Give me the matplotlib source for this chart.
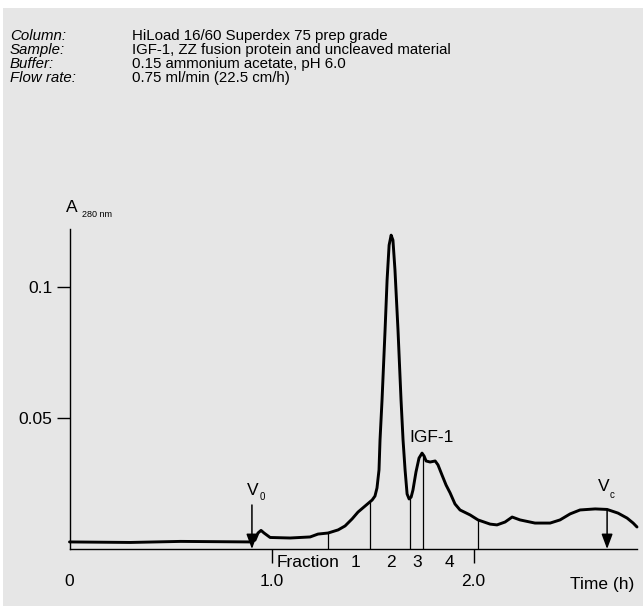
import numpy as np
import matplotlib.pyplot as plt
from matplotlib.patches import Rectangle

plt.rcParams['font.family'] = ['Liberation Sans', 'DejaVu Sans']

# chromatogram trace (time in h, absorbance at 280 nm)
time_h = [0.00, 0.30, 0.55, 0.89, 0.918, 0.933, 0.948, 0.963, 0.993, 1.092,
          1.191, 1.230, 1.280, 1.330, 1.364, 1.399, 1.428, 1.463, 1.498, 1.512,
          1.522, 1.532, 1.537, 1.547, 1.562, 1.572, 1.582, 1.592, 1.601, 1.611,
          1.626, 1.641, 1.651, 1.661, 1.671, 1.681, 1.691, 1.700, 1.715, 1.730,
          1.745, 1.755, 1.765, 1.785, 1.810, 1.824, 1.844, 1.864, 1.884, 1.908,
          1.933, 1.983, 2.022, 2.082, 2.116, 2.156, 2.191, 2.230, 2.304, 2.379,
          2.428, 2.478, 2.527, 2.602, 2.661, 2.715, 2.760, 2.790, 2.809]
absorb = [0.0027, 0.0025, 0.0029, 0.0027, 0.0034, 0.0061, 0.0071, 0.0061, 0.0044, 0.0042,
          0.0046, 0.0057, 0.0061, 0.0073, 0.0088, 0.0115, 0.0141, 0.0164, 0.0187, 0.0202,
          0.0233, 0.0302, 0.0416, 0.0569, 0.0836, 0.1027, 0.1160, 0.1198, 0.1179, 0.1065,
          0.0836, 0.0569, 0.0416, 0.0302, 0.0210, 0.0191, 0.0198, 0.0225, 0.0294, 0.0347,
          0.0366, 0.0355, 0.0336, 0.0332, 0.0336, 0.0321, 0.0282, 0.0244, 0.0214, 0.0172,
          0.0149, 0.0130, 0.0111, 0.0095, 0.0092, 0.0103, 0.0122, 0.0111, 0.0099, 0.0099,
          0.0111, 0.0134, 0.0149, 0.0153, 0.0151, 0.0137, 0.0118, 0.0099, 0.0084]

frac_cuts = [1.28, 1.487, 1.686, 1.75, 2.02]
frac_names = ['1', '2', '3', '4']
frac_name_x = [1.418, 1.592, 1.720, 1.880]

v0_time = 0.903
vc_time = 2.661

header_keys = ['Column:', 'Sample:', 'Buffer:', 'Flow rate:']
header_vals = ['HiLoad 16/60 Superdex 75 prep grade',
               'IGF-1, ZZ fusion protein and uncleaved material',
               '0.15 ammonium acetate, pH 6.0',
               '0.75 ml/min (22.5 cm/h)']

W, H = 643, 606
fig = plt.figure(figsize=(W / 100, H / 100), dpi=100)
fig.patch.set_facecolor('white')
fig.add_artist(Rectangle((3 / W, 0), 1, (H - 8) / H, transform=fig.transFigure,
                         facecolor='#e6e6e6', edgecolor='none', zorder=0))

# header block
for i, (k, v) in enumerate(zip(header_keys, header_vals)):
    yb = 1 - (40 + 14 * i) / H
    fig.text(10 / W, yb, k, fontsize=10.8, style='italic', va='baseline')
    fig.text(132 / W, yb, v, fontsize=10.8, va='baseline')

ax = fig.add_axes([69.5 / W, 57 / H, 567.5 / W, 319.6 / H])
ax.set_facecolor('none')
ax.set_xlim(0, 2.809)
ax.set_ylim(0, 0.122)
for s in ['top', 'right']:
    ax.spines[s].set_visible(False)
for s in ['left', 'bottom']:
    ax.spines[s].set_linewidth(1.0)

ax.plot(time_h, absorb, color='black', lw=2.1, solid_joinstyle='round',
        solid_capstyle='round', clip_on=False)

cut_tops = np.interp(frac_cuts, time_h, absorb)
ax.vlines(frac_cuts, 0, cut_tops, color='black', lw=0.9)

ax.text(1.337, -0.0053, 'Fraction', fontsize=12.5, ha='right', va='center')
for name, x in zip(frac_names, frac_name_x):
    ax.text(x, -0.0053, name, fontsize=12.5, ha='center', va='center')

# void / total volume arrows
arrow = dict(arrowstyle='-|>,head_length=0.75,head_width=0.28', color='black',
             lw=1.1, shrinkA=0, shrinkB=0, mutation_scale=12)
ax.annotate('', xy=(v0_time, 0), xytext=(v0_time, 0.0168), arrowprops=arrow)
ax.annotate('', xy=(vc_time, 0), xytext=(vc_time, np.interp(vc_time, time_h, absorb)),
            arrowprops=arrow)
ax.text(0.908, 0.0225, 'V', fontsize=12.5, ha='center', va='center')
ax.text(0.952, 0.0198, '0', fontsize=7, ha='center', va='center')
ax.text(2.646, 0.0237, 'V', fontsize=12.5, ha='center', va='center')
ax.text(2.685, 0.0206, 'c', fontsize=7, ha='center', va='center')

ax.text(1.790, 0.0427, 'IGF-1', fontsize=12.5, ha='center', va='center')

# axis labels
ax.text(0.012, 0.1302, 'A', fontsize=12.5, ha='center', va='center', clip_on=False)
ax.text(0.062, 0.1275, '280 nm', fontsize=6.5, ha='left', va='center', clip_on=False)
ax.text(2.634, -0.0134, 'Time (h)', fontsize=12.5, ha='center', va='center')

ax.set_yticks([0.05, 0.1])
ax.set_yticklabels(['0.05', '0.1'])
ax.tick_params(axis='y', direction='out', length=9.4, width=1.0, pad=2.8, labelsize=12.5)
ax.set_xticks([0, 1, 2])
ax.set_xticklabels(['0', '1.0', '2.0'])
ax.tick_params(axis='x', direction='out', length=10, width=1.0, pad=8, labelsize=12.5)
ax.get_xticklines()[0].set_visible(False)

fig.savefig('out.png', dpi=100, facecolor=fig.get_facecolor())
